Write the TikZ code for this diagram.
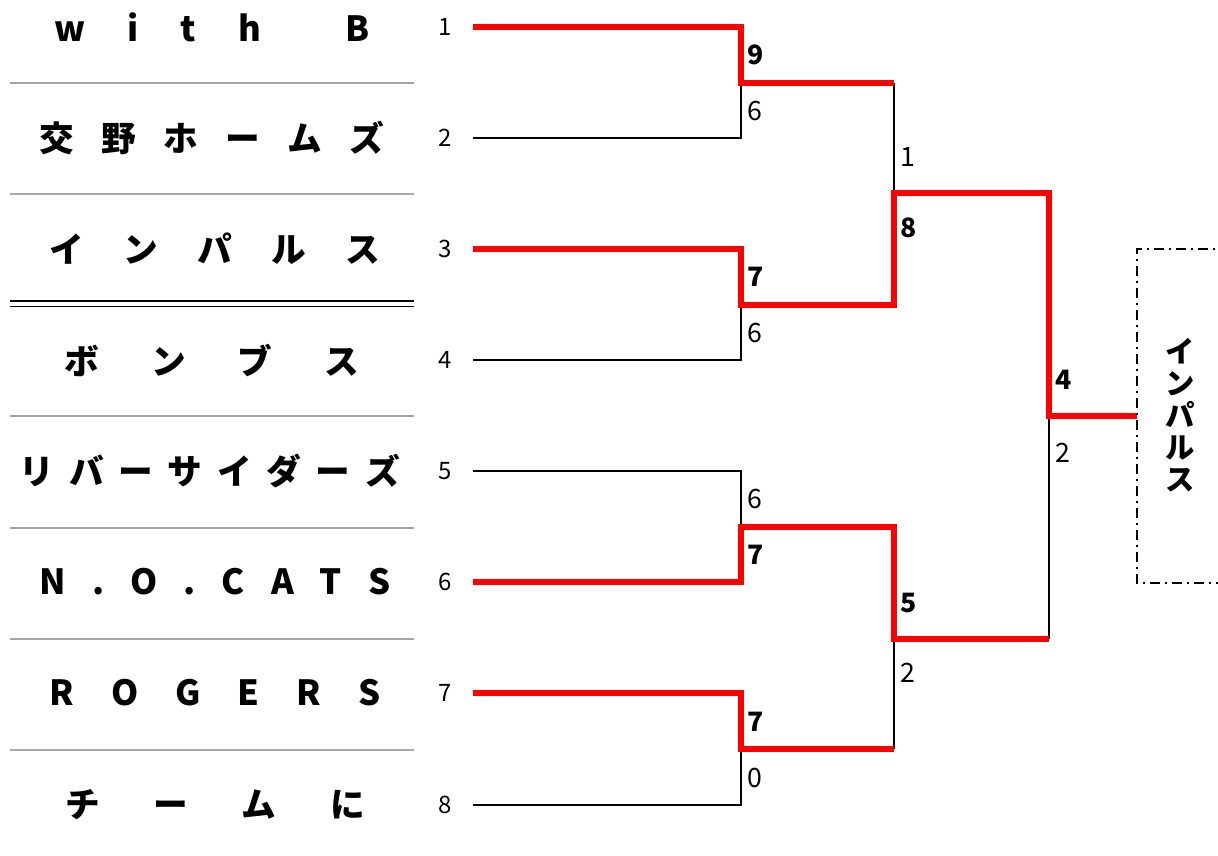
\documentclass[tikz,border=0pt]{standalone}
\usepackage{fontspec}
\newfontfamily\jp{Noto Sans CJK JP}
\newcommand\spreadname[2]{\makebox[#1][s]{#2}}

\tikzset{
  win/.style={red, line width=4pt},
  lose/.style={black, line width=1.3pt},
  sep/.style={black!35, line width=1.5pt},
  seedno/.style={font=\jp\fontsize{18}{18}\selectfont, inner sep=0pt},
  score/.style={anchor=west, inner sep=0pt, font=\jp\fontsize{20}{20}\selectfont},
  wscore/.style={anchor=west, inner sep=0pt, font=\jp\bfseries\fontsize{20}{20}\selectfont},
  team/.style={font=\jp\bfseries\fontsize{26}{26}\selectfont, inner sep=0pt},
  champbox/.style={line width=1pt, dash pattern=on 7.5pt off 3.5pt on 2pt off 3.5pt},
}

\begin{document}
\begin{tikzpicture}[x=0.75pt, y=-0.75pt]
\useasboundingbox (0,0) rectangle (1218,856);

% team names
\node[team] (team1) at (212,27) {\spreadname{236pt}{w\hfill i\hfill t\hfill h\hfill\hfill B}};
\node[team] (team2) at (212,138) {\spreadname{259pt}{交\hfill 野\hfill ホ\hfill ー\hfill ム\hfill ズ}};
\node[team] (team3) at (215,249) {\spreadname{248pt}{イ\hfill ン\hfill パ\hfill ル\hfill ス}};
\node[team] (team4) at (212,360) {\spreadname{221pt}{ボ\hfill ン\hfill ブ\hfill ス}};
\node[team] (team5) at (210,471) {\spreadname{285pt}{リ\hfill バ\hfill ー\hfill サ\hfill イ\hfill ダ\hfill ー\hfill ズ}};
\node[team] (team6) at (215,582) {\spreadname{263pt}{N\hfill .\hfill O\hfill .\hfill C\hfill A\hfill T\hfill S}};
\node[team] (team7) at (215,693) {\spreadname{248pt}{R\hfill O\hfill G\hfill E\hfill R\hfill S}};
\node[team] (team8) at (215,805) {\spreadname{225pt}{チ\hfill ー\hfill ム\hfill に}};

% separators
\foreach \y in {83,194,416,528,639,750}
  \draw[sep] (10,\y) -- (414,\y);
\draw[black, line width=1.2pt] (10,301) -- (414,301);
\draw[black, line width=1.2pt] (10,306.5) -- (414,306.5);

% seed numbers and entry points
\foreach \i/\y in {1/27,2/138,3/249,4/360,5/471,6/582,7/693,8/805} {
  \node[seedno] (seed\i) at (445,\y) {\i};
  \coordinate (e\i) at (473,\y);
}

% junctions
\coordinate (m12) at (741,83);
\coordinate (m34) at (741,305);
\coordinate (m56) at (741,527);
\coordinate (m78) at (741,749);
\coordinate (s14) at (894,193);
\coordinate (s58) at (894,639);
\coordinate (fin) at (1049,416);
\coordinate (champin) at (1137,416);

% losing lines
\draw[lose] (e2) -| (m12);
\draw[lose] (e4) -| (m34);
\draw[lose] (e5) -| (m56);
\draw[lose] (e8) -| (m78);
\draw[lose] (m12 -| s14) -- (s14);
\draw[lose] (m78 -| s58) -- (s58);
\draw[lose] (s58 -| fin) -- (fin);

% winning lines
\draw[win] (e1) -| (m12) -- (m12 -| s14);
\draw[win] (e3) -| (m34) -- (m34 -| s14) -- (s14) -- (s14 -| fin) -- (fin) -- (champin);
\draw[win] (e6) -| (m56) -- (m56 -| s58) -- (s58) -- (s58 -| fin);
\draw[win] (e7) -| (m78) -- (m78 -| s58);

% scores
\node[wscore] (sc1) at (747,55) {9};
\node[score] (sc2) at (747,111) {6};
\node[wscore] (sc3) at (747,277) {7};
\node[score] (sc4) at (747,333) {6};
\node[score] (sc5) at (747,499) {6};
\node[wscore] (sc6) at (747,555) {7};
\node[wscore] (sc7) at (747,722) {7};
\node[score] (sc8) at (747,778) {0};
\node[score] (sc14a) at (900,157) {1};
\node[wscore] (sc14b) at (900,228) {8};
\node[wscore] (sc58a) at (900,603) {5};
\node[score] (sc58b) at (900,673) {2};
\node[wscore] (scfa) at (1055,380) {4};
\node[score] (scfb) at (1055,453) {2};

% champion
\draw[champbox] (1230,249) -- (1137,249) -- (1137,583) -- (1230,583);
\node[font=\jp\bfseries\fontsize{22}{24}\selectfont, align=center, inner sep=0pt] (champ) at (1180,415) {イ\\ン\\パ\\ル\\ス};
\end{tikzpicture}
\end{document}
